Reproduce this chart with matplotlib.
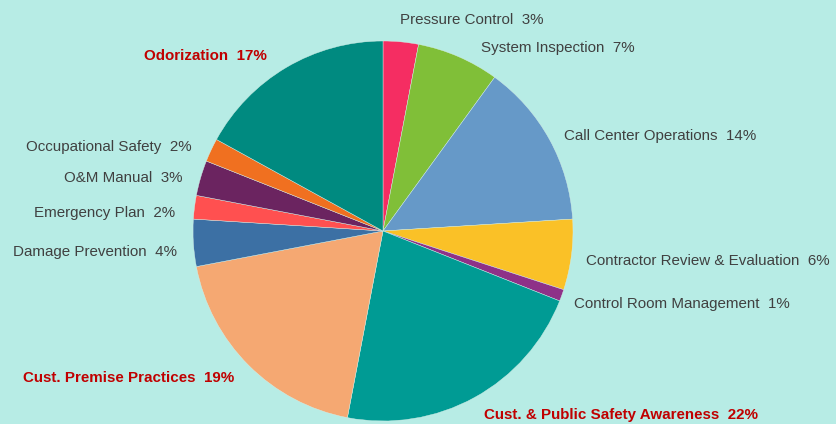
import matplotlib.pyplot as plt

# share of training hours by program area, clockwise from 12 o'clock
categories = [
    "Pressure Control",
    "System Inspection",
    "Call Center Operations",
    "Contractor Review & Evaluation",
    "Control Room Management",
    "Cust. & Public Safety Awareness",
    "Cust. Premise Practices",
    "Damage Prevention",
    "Emergency Plan",
    "O&M Manual",
    "Occupational Safety",
    "Odorization",
]
shares = [3, 7, 14, 6, 1, 22, 19, 4, 2, 3, 2, 17]
highlighted = ["Cust. & Public Safety Awareness", "Cust. Premise Practices", "Odorization"]

colors = [
    "#F52D62", "#80BF38", "#6699C8", "#FAC127", "#8E3188", "#009B94",
    "#F5A872", "#3C70A4", "#FF5050", "#6B2460", "#F07020", "#008A80",
]

# label anchors in pixels (x, y from top-left) and horizontal alignment
label_pos = [
    (400, 20, "left"),
    (481, 48, "left"),
    (564, 136, "left"),
    (586, 261, "left"),
    (574, 304, "left"),
    (484, 415, "left"),
    (234, 378, "right"),
    (177, 252, "right"),
    (175, 213, "right"),
    (183, 178, "right"),
    (192, 147, "right"),
    (267, 56, "right"),
]

W, H = 836, 424
CX, CY, R = 383, 231, 190
BG = "#B7ECE5"

fig = plt.figure(figsize=(W / 100, H / 100), dpi=100, facecolor=BG)
ax = fig.add_axes([0, 0, 1, 1])
ax.set_facecolor(BG)

ax.pie(
    shares,
    colors=colors,
    startangle=90,
    counterclock=False,
    radius=1,
    center=(0, 0),
    wedgeprops=dict(linewidth=0.3, edgecolor="#d8efe8"),
)
ax.set_xlim(-CX / R, (W - CX) / R)
ax.set_ylim(-(H - CY) / R, CY / R)
ax.set_aspect("equal")
ax.axis("off")

for name, pct, (px, py, ha) in zip(categories, shares, label_pos):
    bold = name in highlighted
    ax.text(
        px / W, 1 - py / H,
        f"{name}  {pct}%",
        transform=fig.transFigure,
        ha=ha, va="center",
        fontsize=10.9,
        family="Liberation Sans",
        fontweight="bold" if bold else "normal",
        color="#C00000" if bold else "#404040",
    )

fig.savefig("out.png", dpi=100, facecolor=BG)
